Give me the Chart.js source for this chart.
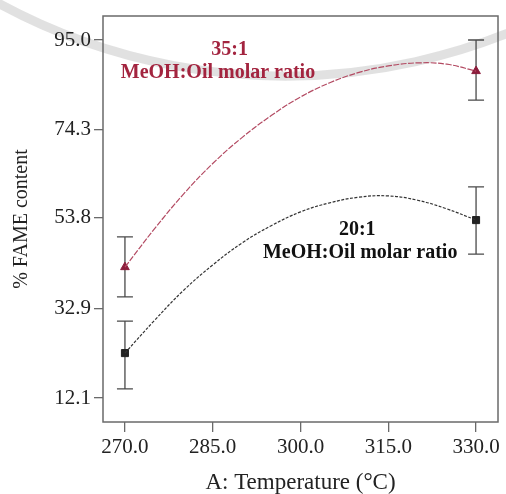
<!DOCTYPE html>
<html>
<head>
<meta charset="utf-8">
<script src="https://cdn.jsdelivr.net/npm/chart.js@4.4.1/dist/chart.umd.min.js"></script>
<style>
    html, body { margin: 0; padding: 0; background: #fff; }
</style>
</head>
<body>
<canvas id="myChart" width="506" height="494"></canvas>
<script>
    // fitted curves, every 5 degC
    var temps = [270, 275, 280, 285, 290, 295, 300, 305, 310, 315, 320, 325, 330];
    var fit35 = [42.4, 51.2, 59.3, 66.4, 72.4, 77.5, 81.8, 85.1, 87.5, 89.0, 89.7, 89.4, 87.8];
    var fit20 = [22.5, 30.0, 37.0, 42.9, 48.0, 52.0, 55.2, 57.3, 58.6, 58.9, 57.9, 55.9, 53.3];

    // design points with error bars
    var designTemps = [270, 330];
    var fame35 = [42.4, 87.8];
    var fame35Lo = [35.5, 81.1];
    var fame35Hi = [49.4, 95.0];
    var fame20 = [22.5, 53.3];
    var fame20Lo = [14.2, 45.4];
    var fame20Hi = [29.9, 61.0];

    var xTicks = [270, 285, 300, 315, 330];
    var yTicks = [12.1, 32.9, 53.8, 74.3, 95.0];

    var red = '#a3243f';
    var serif = "'Liberation Serif', 'DejaVu Serif', serif";

    function pts(xs, ys) {
        return xs.map(function (x, i) { return {x: x, y: ys[i]}; });
    }

    /* watermark band, frame, error bars, labels */
    var extras = {
        id: 'extras',
        beforeDraw: function (chart) {
            var c = chart.ctx;
            c.save();
            c.strokeStyle = 'rgba(205,205,205,0.6)';
            c.lineWidth = 9;
            c.beginPath();
            c.arc(285, -524, 600, Math.PI * 0.18, Math.PI * 0.82);
            c.stroke();
            c.restore();
        },
        beforeDatasetsDraw: function (chart) {
            var c = chart.ctx, xs = chart.scales.x, ys = chart.scales.y;
            c.save();
            c.strokeStyle = '#4a4a4a';
            c.lineWidth = 1.3;
            chart.data.datasets.forEach(function (ds) {
                if (!ds.errLo) return;
                ds.data.forEach(function (p, i) {
                    var px = xs.getPixelForValue(p.x);
                    var lo = ys.getPixelForValue(ds.errLo[i]);
                    var hi = ys.getPixelForValue(ds.errHi[i]);
                    c.beginPath();
                    c.moveTo(px, lo); c.lineTo(px, hi);
                    c.moveTo(px - 8, lo); c.lineTo(px + 8, lo);
                    c.moveTo(px - 8, hi); c.lineTo(px + 8, hi);
                    c.stroke();
                });
            });
            c.restore();
        },
        afterDraw: function (chart) {
            var c = chart.ctx, a = chart.chartArea, xs = chart.scales.x, ys = chart.scales.y;
            c.save();
            c.strokeStyle = '#6a6a6a';
            c.lineWidth = 1.5;
            c.strokeRect(a.left, a.top, a.right - a.left, a.bottom - a.top);

            c.textAlign = 'center';
            c.textBaseline = 'middle';
            c.font = 'bold 20px ' + serif;
            c.fillStyle = red;
            c.fillText('35:1', xs.getPixelForValue(287.9), ys.getPixelForValue(92.7));
            c.fillText('MeOH:Oil molar ratio', xs.getPixelForValue(285.9), ys.getPixelForValue(87.4));
            c.fillStyle = '#111';
            c.fillText('20:1', xs.getPixelForValue(309.7), ys.getPixelForValue(51.0));
            c.fillText('MeOH:Oil molar ratio', xs.getPixelForValue(310.2), ys.getPixelForValue(45.7));
            c.restore();
        }
    };

    var ctx = document.getElementById('myChart').getContext('2d');
    var chart = new Chart(ctx, {
        type: 'scatter',
        data: {
            datasets: [
                {
                    type: 'line',
                    label: '35:1 fit',
                    data: pts(temps, fit35),
                    borderColor: '#b34a62',
                    borderWidth: 1.2,
                    borderDash: [6, 1.5],
                    pointRadius: 0,
                    tension: 0.4,
                    fill: false
                },
                {
                    type: 'line',
                    label: '20:1 fit',
                    data: pts(temps, fit20),
                    borderColor: '#333',
                    borderWidth: 1.2,
                    borderDash: [3, 1.5],
                    pointRadius: 0,
                    tension: 0.4,
                    fill: false
                },
                {
                    label: '35:1',
                    data: pts(designTemps, fame35),
                    errLo: fame35Lo,
                    errHi: fame35Hi,
                    pointStyle: 'triangle',
                    pointRadius: 5,
                    backgroundColor: '#8c1d3c',
                    borderColor: '#8c1d3c',
                    clip: false
                },
                {
                    label: '20:1',
                    data: pts(designTemps, fame20),
                    errLo: fame20Lo,
                    errHi: fame20Hi,
                    pointStyle: 'rect',
                    pointRadius: 5,
                    backgroundColor: '#222',
                    borderColor: '#222',
                    clip: false
                }
            ]
        },
        options: {
            responsive: false,
            animation: false,
            layout: { padding: { top: 16, right: 8, left: 0, bottom: 0 } },
            plugins: {
                legend: { display: false },
                tooltip: { enabled: false }
            },
            scales: {
                x: {
                    type: 'linear',
                    min: 266.25,
                    max: 333.75,
                    afterBuildTicks: function (scale) {
                        scale.ticks = xTicks.map(function (v) { return {value: v}; });
                    },
                    afterFit: function (scale) { scale.height = 72; },
                    grid: { drawOnChartArea: false, tickLength: 10, color: '#6a6a6a', lineWidth: 1.3 },
                    border: { display: false },
                    ticks: {
                        padding: 3,
                        color: '#222',
                        font: { family: serif, size: 21 },
                        callback: function (v) { return v.toFixed(1); }
                    },
                    title: {
                        display: true,
                        text: 'A: Temperature (°C)',
                        color: '#222',
                        padding: 0,
                        font: { family: serif, size: 23, lineHeight: 1 }
                    }
                },
                y: {
                    type: 'linear',
                    min: 6.54,
                    max: 100.56,
                    afterBuildTicks: function (scale) {
                        scale.ticks = yTicks.map(function (v) { return {value: v}; });
                    },
                    afterFit: function (scale) { scale.width = 103; },
                    grid: { drawOnChartArea: false, tickLength: 9, color: '#6a6a6a', lineWidth: 1.3 },
                    border: { display: false },
                    ticks: {
                        padding: 3,
                        color: '#222',
                        font: { family: serif, size: 21 },
                        callback: function (v) { return v.toFixed(1); }
                    },
                    title: {
                        display: true,
                        text: '% FAME content',
                        color: '#222',
                        padding: { top: 10, bottom: 0 },
                        font: { family: serif, size: 20, lineHeight: 1.2 }
                    }
                }
            }
        },
        plugins: [extras]
    });
</script>
</body>
</html>
